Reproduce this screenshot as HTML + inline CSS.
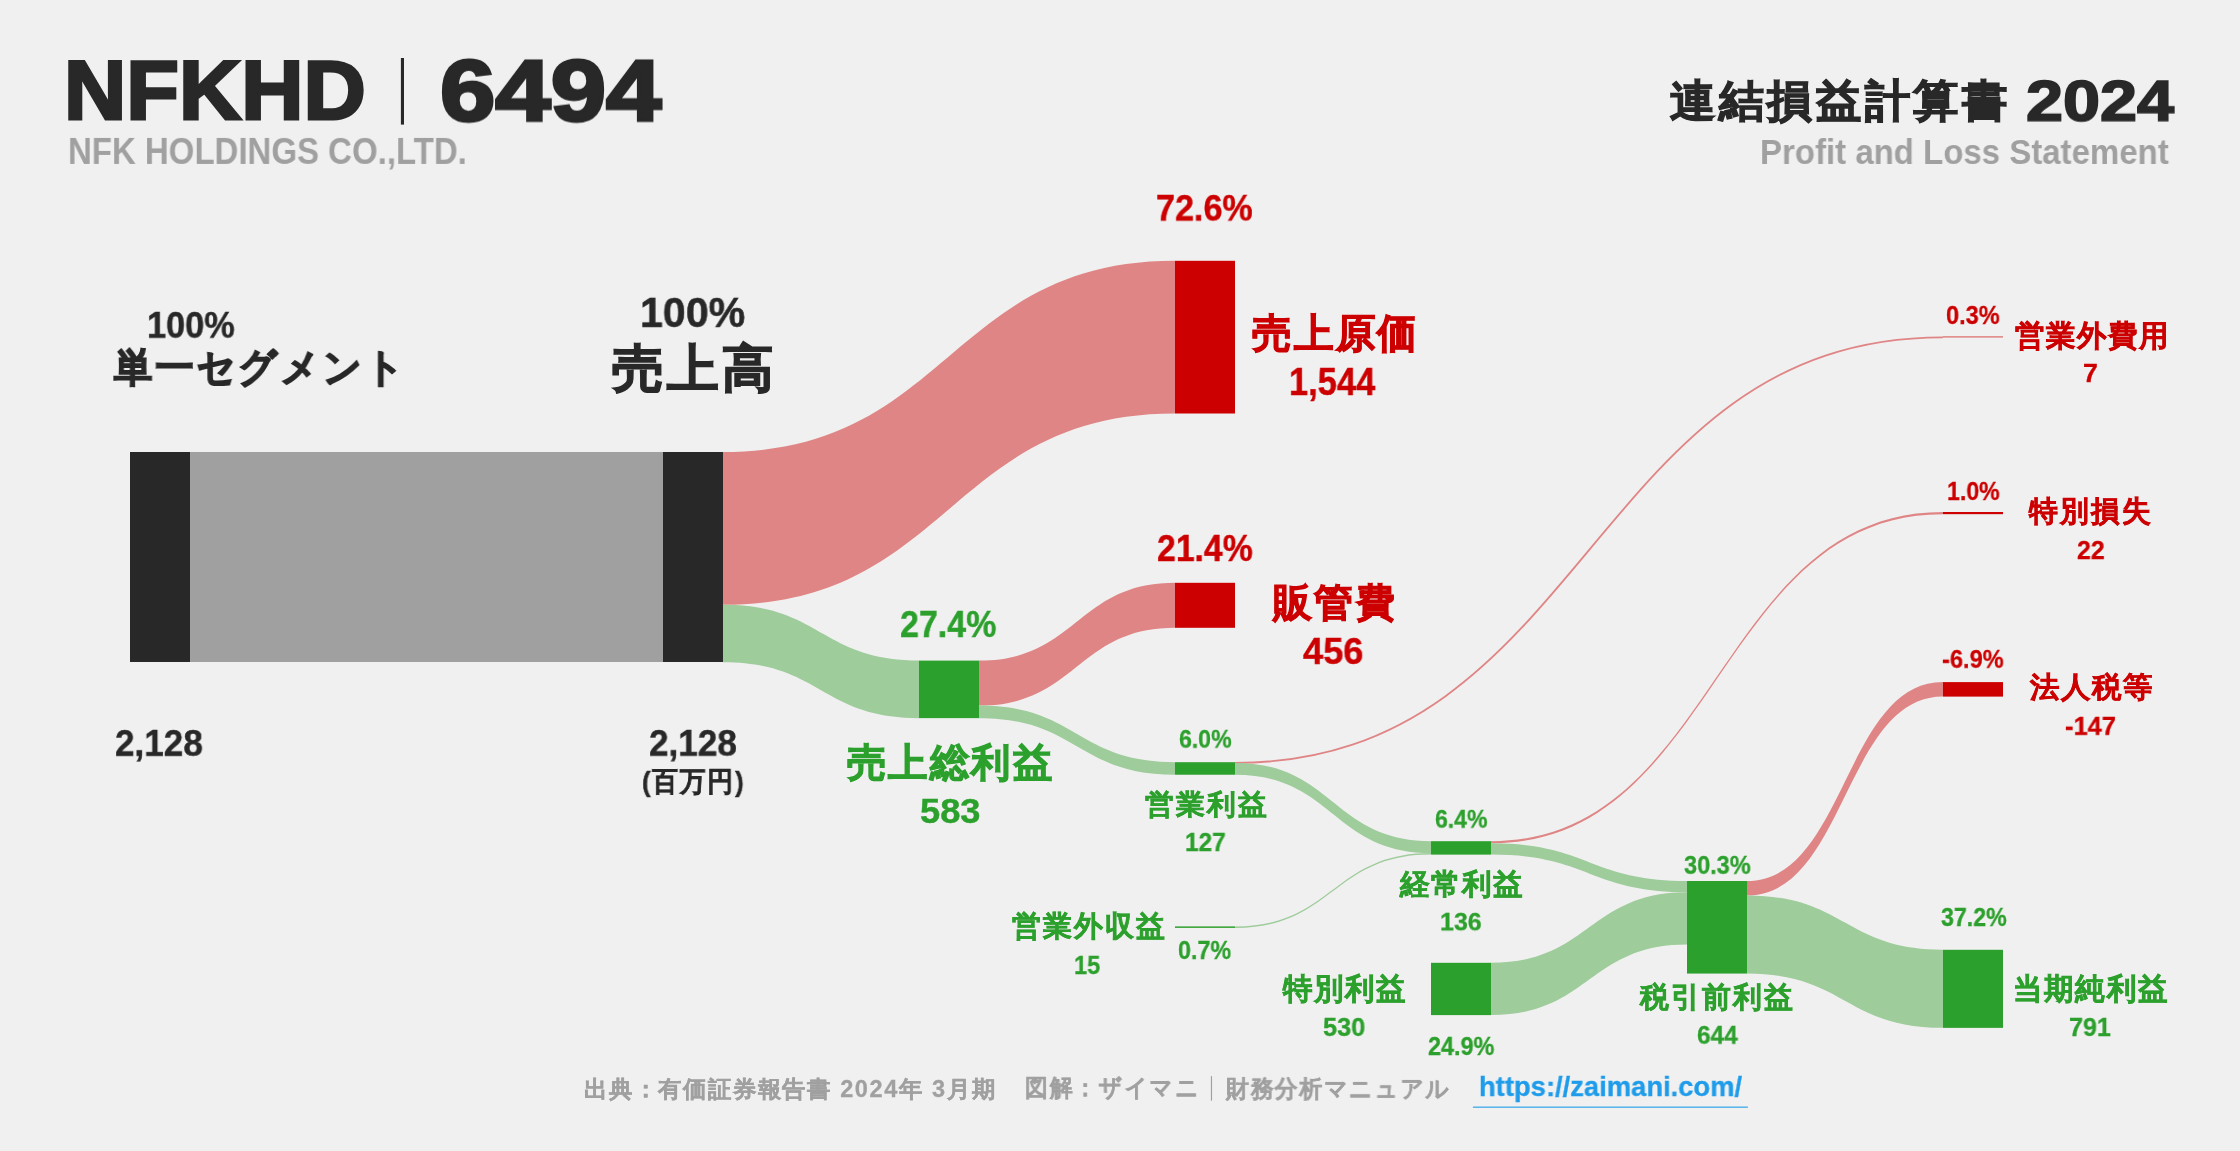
<!DOCTYPE html>
<html lang="ja"><head><meta charset="utf-8"><title>NFKHD 6494 連結損益計算書 2024</title>
<style>
html,body{margin:0;padding:0}
body{width:2240px;height:1151px;overflow:hidden;background:#f0f0f0;position:relative;font-family:"Liberation Sans",sans-serif}
svg{position:absolute;left:0;top:0}
.t{position:absolute;white-space:nowrap;line-height:1;font-weight:bold;transform-origin:0 0;will-change:transform}
.u{position:absolute;background:#1e9cea}
</style></head><body>
<svg width="2240" height="1151" viewBox="0 0 2240 1151">
<rect x="190" y="452" width="473" height="210" fill="#a0a0a0"/>
<path d="M723.00,452.00C949.00,452.00 949.00,260.80 1175.00,260.80L1175.00,413.50C949.00,413.50 949.00,604.80 723.00,604.80Z" fill="#e08585"/>
<path d="M723.00,604.80C821.00,604.80 821.00,660.60 919.00,660.60L919.00,718.13C821.00,718.13 821.00,662.20 723.00,662.20Z" fill="#9ecc9b"/>
<path d="M979.00,660.60C1077.00,660.60 1077.00,582.80 1175.00,582.80L1175.00,627.80C1077.00,627.80 1077.00,705.60 979.00,705.60Z" fill="#e08585"/>
<path d="M979.00,705.60C1077.00,705.60 1077.00,762.20 1175.00,762.20L1175.00,774.73C1077.00,774.73 1077.00,718.13 979.00,718.13Z" fill="#9ecc9b"/>
<path d="M1235.00,762.90C1589.00,762.90 1589.00,337.30 1943.00,337.30" fill="none" stroke="#e08585" stroke-width="1.8"/>
<path d="M1235.00,762.89C1333.00,762.89 1333.00,841.20 1431.00,841.20L1431.00,853.04C1333.00,853.04 1333.00,774.73 1235.00,774.73Z" fill="#9ecc9b"/>
<path d="M1235.00,926.40C1333.00,926.40 1333.00,853.04 1431.00,853.04L1431.00,854.52C1333.00,854.52 1333.00,927.88 1235.00,927.88Z" fill="#9ecc9b"/>
<path d="M1491.00,841.20C1717.00,841.20 1717.00,512.00 1943.00,512.00L1943.00,514.17C1717.00,514.17 1717.00,843.37 1491.00,843.37Z" fill="#e08585"/>
<path d="M1491.00,843.37C1589.00,843.37 1589.00,881.00 1687.00,881.00L1687.00,892.25C1589.00,892.25 1589.00,854.62 1491.00,854.62Z" fill="#9ecc9b"/>
<path d="M1491.00,962.80C1589.00,962.80 1589.00,892.25 1687.00,892.25L1687.00,944.55C1589.00,944.55 1589.00,1015.10 1491.00,1015.10Z" fill="#9ecc9b"/>
<path d="M1747.00,881.00C1845.00,881.00 1845.00,682.10 1943.00,682.10L1943.00,696.61C1845.00,696.61 1845.00,895.51 1747.00,895.51Z" fill="#e08585"/>
<path d="M1747.00,895.51C1845.00,895.51 1845.00,949.80 1943.00,949.80L1943.00,1027.86C1845.00,1027.86 1845.00,973.57 1747.00,973.57Z" fill="#9ecc9b"/>
<rect x="130" y="452.00" width="60" height="210.00" fill="#282828"/>
<rect x="663" y="452.00" width="60" height="210.00" fill="#282828"/>
<rect x="1175" y="260.80" width="60" height="152.70" fill="#cc0000"/>
<rect x="919" y="660.60" width="60" height="57.53" fill="#2ca02c"/>
<rect x="1175" y="582.80" width="60" height="45.00" fill="#cc0000"/>
<rect x="1175" y="762.20" width="60" height="12.53" fill="#2ca02c"/>
<rect x="1943" y="336.60" width="60" height="0.69" fill="#cc0000"/>
<rect x="1431" y="841.20" width="60" height="13.42" fill="#2ca02c"/>
<rect x="1175" y="926.40" width="60" height="1.48" fill="#2ca02c"/>
<rect x="1943" y="512.00" width="60" height="2.17" fill="#cc0000"/>
<rect x="1431" y="962.80" width="60" height="52.30" fill="#2ca02c"/>
<rect x="1687" y="881.00" width="60" height="92.57" fill="#2ca02c"/>
<rect x="1943" y="682.10" width="60" height="14.51" fill="#cc0000"/>
<rect x="1943" y="949.80" width="60" height="78.06" fill="#2ca02c"/>
<rect x="400.9" y="58" width="3.1" height="66.6" fill="#282828"/>
<rect x="1472.9" y="1106.6" width="275" height="1.1" fill="#1e9cea"/>
<rect x="1210.9" y="1076.1" width="1.15" height="24.6" fill="#a0a0a0"/>
</svg>
<div class="t" style="left:63.83px;top:48.83px;font-size:83.44px;color:#282828;transform:scale(1.0330,1.0068);-webkit-text-stroke:2.920px #282828;">NFKHD</div>
<div class="t" style="left:440.38px;top:48.25px;font-size:86.65px;color:#282828;transform:scale(1.1482,0.9932);-webkit-text-stroke:3.033px #282828;">6494</div>
<div class="t" style="left:68.48px;top:133.18px;font-size:35.07px;color:#a0a0a0;transform:scale(0.9406,1.0375);">NFK HOLDINGS CO.,LTD.</div>
<div class="t" style="left:1670.27px;top:78.98px;font-size:44.12px;color:#282828;transform:scale(1.0336,1.0040);-webkit-text-stroke:1.191px #282828;letter-spacing:0.07em;">連結損益計算書</div>
<div class="t" style="left:2026.18px;top:73.03px;font-size:57.01px;color:#282828;transform:scale(1.1676,0.9925);-webkit-text-stroke:1.710px #282828;">2024</div>
<div class="t" style="left:1759.67px;top:135.38px;font-size:33.38px;color:#a0a0a0;transform:scale(0.9884,1.0292);">Profit and Loss Statement</div>
<div class="t" style="left:147.28px;top:307.99px;font-size:36.41px;color:#282828;transform:scale(0.9417,0.9886);-webkit-text-stroke:0.437px #282828;">100%</div>
<div class="t" style="left:113.54px;top:348.44px;font-size:39.76px;color:#282828;transform:scale(0.9619,1.0049);-webkit-text-stroke:1.511px #282828;letter-spacing:0.07em;">単一セグメント</div>
<div class="t" style="left:640.44px;top:290.81px;font-size:41.97px;color:#282828;transform:scale(0.9798,1.0237);-webkit-text-stroke:0.504px #282828;">100%</div>
<div class="t" style="left:612.00px;top:343.68px;font-size:50.96px;color:#282828;transform:scale(1.0116,1.0004);-webkit-text-stroke:1.376px #282828;letter-spacing:0.07em;">売上高</div>
<div class="t" style="left:114.82px;top:725.88px;font-size:36.55px;color:#282828;transform:scale(0.9594,0.9924);-webkit-text-stroke:0.439px #282828;">2,128</div>
<div class="t" style="left:648.81px;top:726.09px;font-size:36.41px;color:#282828;transform:scale(0.9661,0.9886);-webkit-text-stroke:0.437px #282828;">2,128</div>
<div class="t" style="left:641.96px;top:768.15px;font-size:27.95px;color:#282828;transform:scale(0.9196,0.9999);-webkit-text-stroke:0.473px #282828;letter-spacing:0.07em;">(百万円)</div>
<div class="t" style="left:1156.48px;top:191.11px;font-size:36.28px;color:#cc0000;transform:scale(0.9408,0.9848);-webkit-text-stroke:0.435px #cc0000;">72.6%</div>
<div class="t" style="left:1251.56px;top:314.46px;font-size:39.46px;color:#cc0000;transform:scale(1.0010,1.0126);-webkit-text-stroke:1.065px #cc0000;letter-spacing:0.07em;">売上原価</div>
<div class="t" style="left:1289.30px;top:363.62px;font-size:37.62px;color:#cc0000;transform:scale(0.9173,1.0075);-webkit-text-stroke:0.451px #cc0000;">1,544</div>
<div class="t" style="left:1156.77px;top:529.82px;font-size:37.11px;color:#cc0000;transform:scale(0.9098,1.0075);-webkit-text-stroke:0.445px #cc0000;">21.4%</div>
<div class="t" style="left:1273.13px;top:583.38px;font-size:38.35px;color:#cc0000;transform:scale(1.0146,1.0196);-webkit-text-stroke:1.035px #cc0000;letter-spacing:0.07em;">販管費</div>
<div class="t" style="left:1302.59px;top:634.17px;font-size:36.69px;color:#cc0000;transform:scale(0.9877,0.9962);-webkit-text-stroke:0.440px #cc0000;">456</div>
<div class="t" style="left:900.46px;top:606.02px;font-size:37.11px;color:#2ca02c;transform:scale(0.9156,1.0075);-webkit-text-stroke:0.445px #2ca02c;">27.4%</div>
<div class="t" style="left:846.56px;top:744.23px;font-size:38.45px;color:#2ca02c;transform:scale(1.0172,1.0098);-webkit-text-stroke:1.038px #2ca02c;letter-spacing:0.07em;">売上総利益</div>
<div class="t" style="left:919.72px;top:793.25px;font-size:34.74px;color:#2ca02c;transform:scale(1.0446,1.0216);-webkit-text-stroke:0.417px #2ca02c;">583</div>
<div class="t" style="left:1178.80px;top:727.10px;font-size:25.3px;color:#2ca02c;transform:scale(0.9121,0.9837);-webkit-text-stroke:0.304px #2ca02c;">6.0%</div>
<div class="t" style="left:1144.84px;top:791.06px;font-size:27.88px;color:#2ca02c;transform:scale(1.0313,1.0027);-webkit-text-stroke:0.470px #2ca02c;letter-spacing:0.07em;">営業利益</div>
<div class="t" style="left:1184.66px;top:831.24px;font-size:24.8px;color:#2ca02c;transform:scale(0.9850,1.0056);-webkit-text-stroke:0.298px #2ca02c;">127</div>
<div class="t" style="left:1434.91px;top:807.10px;font-size:25.3px;color:#2ca02c;transform:scale(0.9086,0.9837);-webkit-text-stroke:0.304px #2ca02c;">6.4%</div>
<div class="t" style="left:1400.26px;top:870.07px;font-size:28.45px;color:#2ca02c;transform:scale(1.0352,1.0134);-webkit-text-stroke:0.500px #2ca02c;letter-spacing:0.07em;">経常利益</div>
<div class="t" style="left:1440.33px;top:910.44px;font-size:24.87px;color:#2ca02c;transform:scale(1.0040,0.9675);-webkit-text-stroke:0.298px #2ca02c;">136</div>
<div class="t" style="left:1011.94px;top:912.08px;font-size:28.65px;color:#2ca02c;transform:scale(0.9994,1.0041);-webkit-text-stroke:0.510px #2ca02c;letter-spacing:0.07em;">営業外収益</div>
<div class="t" style="left:1074.42px;top:951.85px;font-size:26.07px;color:#2ca02c;transform:scale(0.9061,0.9999);-webkit-text-stroke:0.313px #2ca02c;">15</div>
<div class="t" style="left:1178.40px;top:938.15px;font-size:25.72px;color:#2ca02c;transform:scale(0.9060,0.9999);-webkit-text-stroke:0.309px #2ca02c;">0.7%</div>
<div class="t" style="left:1283.12px;top:972.90px;font-size:29.42px;color:#2ca02c;transform:scale(1.0033,1.0212);-webkit-text-stroke:0.552px #2ca02c;letter-spacing:0.07em;">特別利益</div>
<div class="t" style="left:1322.85px;top:1015.16px;font-size:25.57px;color:#2ca02c;transform:scale(0.9886,0.9968);-webkit-text-stroke:0.307px #2ca02c;">530</div>
<div class="t" style="left:1428.00px;top:1033.85px;font-size:25.71px;color:#2ca02c;transform:scale(0.9103,0.9999);-webkit-text-stroke:0.309px #2ca02c;">24.9%</div>
<div class="t" style="left:1684.17px;top:853.18px;font-size:25.43px;color:#2ca02c;transform:scale(0.9252,0.9891);-webkit-text-stroke:0.305px #2ca02c;">30.3%</div>
<div class="t" style="left:1640.38px;top:982.91px;font-size:28.83px;color:#2ca02c;transform:scale(1.0010,1.0045);-webkit-text-stroke:0.520px #2ca02c;letter-spacing:0.07em;">税引前利益</div>
<div class="t" style="left:1696.76px;top:1022.90px;font-size:25.3px;color:#2ca02c;transform:scale(0.9624,0.9837);-webkit-text-stroke:0.304px #2ca02c;">644</div>
<div class="t" style="left:1940.58px;top:905.05px;font-size:25.7px;color:#2ca02c;transform:scale(0.9027,0.9999);-webkit-text-stroke:0.308px #2ca02c;">37.2%</div>
<div class="t" style="left:2012.72px;top:972.70px;font-size:29.42px;color:#2ca02c;transform:scale(1.0052,1.0212);-webkit-text-stroke:0.552px #2ca02c;letter-spacing:0.07em;">当期純利益</div>
<div class="t" style="left:2068.77px;top:1014.75px;font-size:25.72px;color:#2ca02c;transform:scale(0.9767,0.9999);-webkit-text-stroke:0.309px #2ca02c;">791</div>
<div class="t" style="left:1942.02px;top:647.08px;font-size:25.43px;color:#cc0000;transform:scale(0.9291,0.9891);-webkit-text-stroke:0.305px #cc0000;">-6.9%</div>
<div class="t" style="left:2030.14px;top:674.39px;font-size:28.13px;color:#cc0000;transform:scale(1.0365,1.0216);-webkit-text-stroke:0.483px #cc0000;letter-spacing:0.07em;">法人税等</div>
<div class="t" style="left:2064.76px;top:714.08px;font-size:25.96px;color:#cc0000;transform:scale(0.9816,0.9891);-webkit-text-stroke:0.312px #cc0000;">-147</div>
<div class="t" style="left:1946.29px;top:301.99px;font-size:26.12px;color:#cc0000;transform:scale(0.9030,1.0161);-webkit-text-stroke:0.313px #cc0000;">0.3%</div>
<div class="t" style="left:2014.75px;top:320.77px;font-size:28.95px;color:#cc0000;transform:scale(1.0028,1.0219);-webkit-text-stroke:0.527px #cc0000;letter-spacing:0.07em;">営業外費用</div>
<div class="t" style="left:2082.72px;top:359.97px;font-size:26.29px;color:#cc0000;transform:scale(1.0156,0.9945);-webkit-text-stroke:0.315px #cc0000;">7</div>
<div class="t" style="left:1947.24px;top:478.01px;font-size:25.99px;color:#cc0000;transform:scale(0.8907,1.0107);-webkit-text-stroke:0.312px #cc0000;">1.0%</div>
<div class="t" style="left:2029.10px;top:496.76px;font-size:28.83px;color:#cc0000;transform:scale(0.9993,1.0069);-webkit-text-stroke:0.520px #cc0000;letter-spacing:0.07em;">特別損失</div>
<div class="t" style="left:2076.75px;top:537.22px;font-size:26.07px;color:#cc0000;transform:scale(0.9551,1.0012);-webkit-text-stroke:0.313px #cc0000;">22</div>
<div class="t" style="left:584.12px;top:1077.87px;font-size:22.38px;color:#a0a0a0;transform:scale(1.0521,1.0343);-webkit-text-stroke:0.269px #a0a0a0;letter-spacing:0.07em;">出典：有価証券報告書 2024年 3月期</div>
<div class="t" style="left:1025.17px;top:1076.29px;font-size:23.99px;color:#a0a0a0;transform:scale(0.9564,1.0133);-webkit-text-stroke:0.288px #a0a0a0;letter-spacing:0.07em;">図解：ザイマニ</div>
<div class="t" style="left:1225.59px;top:1076.86px;font-size:23.48px;color:#a0a0a0;transform:scale(0.9908,1.0395);-webkit-text-stroke:0.282px #a0a0a0;letter-spacing:0.07em;">財務分析マニュアル</div>
<div class="t" style="left:1478.59px;top:1073.24px;font-size:28.01px;color:#1e9cea;transform:scale(0.9777,1.0037);-webkit-text-stroke:0.336px #1e9cea;">https://zaimani.com/</div>
</body></html>
